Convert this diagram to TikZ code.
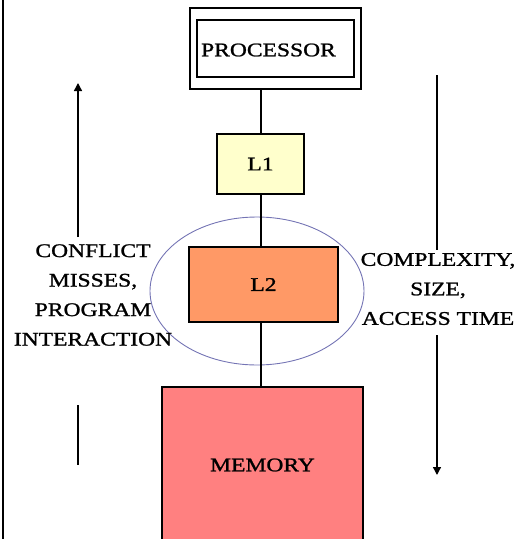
\documentclass[tikz,border=0pt]{standalone}
\usepackage{fontspec}
\setmainfont{Liberation Serif}[FakeStretch=1.22, FakeBold=1.2]
\usetikzlibrary{arrows.meta}
\definecolor{lonefill}{HTML}{FFFFCC}
\definecolor{ltwofill}{HTML}{FF9966}
\definecolor{memfill}{HTML}{FF8080}
\definecolor{ringblue}{HTML}{7474B4}
\tikzset{
  lbl/.style={font=\fontsize{19.3}{29.5}\selectfont, align=center, inner sep=0pt},
  unitbox/.style={draw=black, line width=1.8pt, minimum width=#1},
  link/.style={line width=1.8pt},
  trend/.style={line width=1.4pt},
  trendhead/.style={trend, -{Triangle[length=8pt,width=8pt]}}
}
\begin{document}
\begin{tikzpicture}[x=1pt,y=-1pt]
\useasboundingbox (0,0) rectangle (517,539);
% frame edge on the left
\draw[line width=2.5pt] (3,0) -- (3,539);

% processor with a double border
\draw[line width=1.6pt] (190,8) rectangle (361,89);
\draw[line width=1.6pt] (197,20) rectangle (354,77);
\node[lbl] (proc) at (268.5,50) {PROCESSOR};
\coordinate (procbot) at (261,89);

% cache levels and memory
\node[unitbox=87pt, minimum height=60pt, fill=lonefill, lbl] (l1) at (260.5,164) {L1};
\node[unitbox=149pt, minimum height=75pt, fill=ltwofill, lbl] (l2) at (263.5,284.5) {L2};
\draw[line width=1.8pt, fill=memfill] (162,387) rectangle (363,545);
\node[lbl] (mem) at (262.5,465) {MEMORY};
\coordinate (memtop) at (261,387);

% highlight ring around L2
\draw[ringblue, line width=0.9pt] (257,291) ellipse [x radius=107, y radius=74];

% vertical links
\draw[link] (procbot) -- (l1.north -| procbot);
\draw[link] (l1.south -| procbot) -- (l2.north -| procbot);
\draw[link] (l2.south -| procbot) -- (memtop);

% side labels
\node[lbl] (left) at (93,295) {CONFLICT\\MISSES,\\PROGRAM\\INTERACTION};
\node[lbl] (right) at (438,289) {COMPLEXITY,\\SIZE,\\ACCESS TIME};

% trend arrows
\coordinate (lefttop) at (78,83);
\coordinate (leftlow) at (78,405);
\coordinate (leftend) at (78,465);
\draw[trendhead] (78,237) -- (lefttop);
\draw[trend] (leftlow) -- (leftend);

\coordinate (righttop) at (437,75);
\coordinate (rightmid) at (437,250);
\coordinate (rightlow) at (437,335);
\coordinate (rightend) at (437,475);
\draw[trend] (righttop) -- (rightmid);
\draw[trendhead] (rightlow) -- (rightend);
\end{tikzpicture}
\end{document}
